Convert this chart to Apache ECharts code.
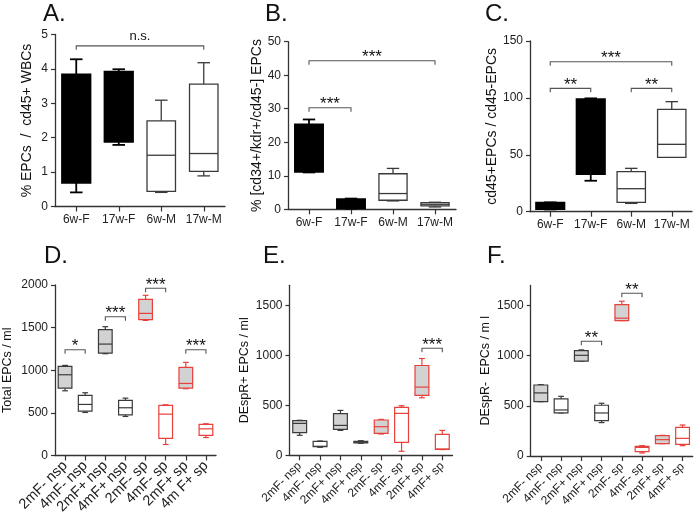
<!DOCTYPE html>
<html><head><meta charset="utf-8">
<script src="https://cdn.jsdelivr.net/npm/echarts@6/dist/echarts.min.js"></script>
<style>html,body{margin:0;padding:0;background:#fff}#c{width:697px;height:517px}</style>
</head><body><div id="c"></div>
<script>
const FONT = 'Liberation Sans, Arial, sans-serif';

// Categories
const catsTop = ['6w-F', '17w-F', '6w-M', '17w-M'];
const catsD = ['2mF- nsp', '4mF- nsp', '2mF+ nsp', '4mF+ nsp', '2mF- sp', '4mF- sp', '2mF+ sp', '4m F+ sp'];
const catsEF = ['2mF- nsp', '4mF- nsp', '2mF+ nsp', '4mF+ nsp', '2mF- sp', '4mF- sp', '2mF+ sp', '4mF+ sp'];

// Box values: [low whisker, Q1, median, Q3, high whisker]
const boxA = [[0.41, 0.69, null, 3.84, 4.28], [1.79, 1.88, null, 3.92, 3.99], [0.41, 0.44, 1.49, 2.49, 3.09], [0.89, 1.02, 1.54, 3.56, 4.18]];
const boxB = [[11.0, 11.2, null, 25.3, 26.8], [0.2, 0.3, null, 3.0, 3.2], [2.5, 2.7, 4.7, 10.6, 12.2], [0.7, 1.0, 1.5, 2.0, 2.1]];
const boxC = [[2.0, 2.3, null, 7.9, 8.2], [27.2, 33.1, null, 99.0, 99.6], [7.3, 8.2, 20.2, 35.2, 38.1], [47.8, 47.8, 59.2, 90, 96.7]];
const boxD = [[759, 790, 947, 1045, 1057], [505, 520, 599, 705, 736], [1194, 1202, 1307, 1476, 1511], [458, 477, 560, 646, 673],
              [1585, 1593, 1667, 1832, 1879], [129, 200, 485, 587, 595], [783, 790, 845, 1033, 1092], [211, 235, 313, 364, 372]];
const boxE = [[200, 226, 319, 346, 350], [80, 86, 90, 140, 143], [249, 259, 299, 416, 449], [120, 123, 130, 140, 146],
              [213, 220, 286, 353, 359], [40, 130, 419, 479, 496], [575, 599, 682, 898, 968], [57, 60, 63, 210, 249]];
const boxF = [[542, 542, 629, 708, 712], [429, 429, 459, 569, 595], [945, 945, 1004, 1051, 1058], [333, 353, 429, 506, 526],
              [1350, 1350, 1374, 1510, 1543], [30, 43, 86, 96, 103], [123, 123, 163, 203, 206], [103, 116, 176, 286, 309]];

// Significance brackets: [from category, to category, level, label]
const brA = [[0, 3, 4.67, 'n.s.']];
const brB = [[0, 3, 44.3, '***'], [0, 1, 30.3, '***']];
const brC = [[0, 3, 131.8, '***'], [0, 1, 108.4, '**'], [2, 3, 108.4, '**']];
const brD = [[0, 1, 1240, '*'], [2, 3, 1628, '***'], [4, 5, 1961, '***'], [6, 7, 1240, '***']];
const brE = [[6, 7, 1071, '***']];
const brF = [[2, 3, 1144, '**'], [4, 5, 1623, '**']];

// Tick labels
const ticksA = [0, 1, 2, 3, 4, 5];
const ticksB = [0, 10, 20, 30, 40, 50];
const ticksC = [0, 50, 100, 150];
const ticksD = [0, 500, 1000, 1500, 2000];
const ticksEF = [0, 500, 1000, 1500];

// Styles
const BLK = '#000', DK = '#3a3a3a', RED = '#e8403a', GR = '#d2d2d2', WH = '#ffffff';
const stTop = { stroke: [BLK, BLK, DK, DK], fill: [BLK, BLK, WH, WH], lw: [1.8, 1.8, 1.3, 1.3], boxRatio: 0.67, capRatio: 0.44 };
const stC = Object.assign({}, stTop, { boxRatio: 0.7 });
const stBot = { stroke: [DK, DK, DK, DK, RED, RED, RED, RED], fill: [GR, WH, GR, WH, GR, WH, GR, WH], lw: [1.2,1.2,1.2,1.2,1.2,1.2,1.2,1.2], boxRatio: 0.68, capRatio: 0.42 };

const grids = [
  { left: 55, top: 34.5, width: 170, height: 172 },
  { left: 288, top: 41.7, width: 168, height: 167.6 },
  { left: 530, top: 41, width: 162, height: 170.7 },
  { left: 55, top: 285, width: 161, height: 170.5 },
  { left: 289.5, top: 285.3, width: 163, height: 170 },
  { left: 530.7, top: 285.5, width: 162, height: 170.5 }
].map(g => Object.assign({ containLabel: false, outerBoundsMode: 'none' }, g));

function xAx(idx, cats, rotate, fs, margin) {
  return {
    type: 'category', gridIndex: idx, data: cats, boundaryGap: true,
    axisLine: { show: true, onZero: false, lineStyle: { color: '#333', width: 1.3 } },
    axisTick: { show: true, alignWithLabel: true, length: 5, lineStyle: { color: '#333', width: 1.2 } },
    axisLabel: { interval: 0, rotate: rotate || 0, fontSize: fs || 12, fontFamily: FONT, color: '#222', margin: margin || 7 },
    splitLine: { show: false }
  };
}
function yAx(idx, max, name, gap, ticks, nfs) {
  return {
    type: 'value', gridIndex: idx, min: 0, max: max, name: name, nameLocation: 'middle', nameGap: gap, nameRotate: 90,
    nameTextStyle: { fontSize: nfs, fontFamily: FONT, color: '#111' },
    axisLine: { show: true, lineStyle: { color: '#333', width: 1.3 } },
    axisTick: { show: true, length: 4, lineStyle: { color: '#333', width: 1.2 }, customValues: ticks },
    axisLabel: { fontSize: 12, fontFamily: FONT, color: '#222', margin: 7, customValues: ticks, formatter: v => String(v) },
    splitLine: { show: false }
  };
}

function boxSeries(idx, boxes, st) {
  return {
    type: 'custom', xAxisIndex: idx, yAxisIndex: idx, clip: false, z: 2,
    data: boxes.map((b, i) => [i, b[0], b[1], b[3], b[4]]),
    encode: { x: 0, y: [1, 2, 3, 4] },
    renderItem: function (params, api) {
      const k = params.dataIndex, b = boxes[k];
      const band = api.size([1, 0])[0];
      const w = band * st.boxRatio, cw = w * st.capRatio;
      const pl = api.coord([k, b[0]]);
      const x = pl[0], yLow = pl[1];
      const yQ1 = api.coord([k, b[1]])[1], yQ3 = api.coord([k, b[3]])[1], yHigh = api.coord([k, b[4]])[1];
      const stroke = st.stroke[k], fill = st.fill[k], lw = st.lw[k];
      const ls = { stroke: stroke, lineWidth: lw, fill: null };
      const ch = [
        { type: 'line', shape: { x1: x, y1: yQ1, x2: x, y2: yLow }, style: ls },
        { type: 'line', shape: { x1: x, y1: yQ3, x2: x, y2: yHigh }, style: ls },
        { type: 'line', shape: { x1: x - cw / 2, y1: yLow, x2: x + cw / 2, y2: yLow }, style: ls },
        { type: 'line', shape: { x1: x - cw / 2, y1: yHigh, x2: x + cw / 2, y2: yHigh }, style: ls },
        { type: 'rect', shape: { x: x - w / 2, y: yQ3, width: w, height: Math.max(yQ1 - yQ3, 0.5) }, style: { fill: fill, stroke: stroke, lineWidth: lw } }
      ];
      if (b[2] != null) {
        const ym = api.coord([k, b[2]])[1];
        ch.push({ type: 'line', shape: { x1: x - w / 2, y1: ym, x2: x + w / 2, y2: ym }, style: ls });
      }
      return { type: 'group', children: ch };
    }
  };
}

function bracketSeries(idx, brs) {
  return {
    type: 'custom', xAxisIndex: idx, yAxisIndex: idx, clip: false, z: 3,
    data: brs.map(b => [b[0], b[1], b[2]]),
    encode: { x: [0, 1], y: 2 },
    renderItem: function (params, api) {
      const b = brs[params.dataIndex];
      const p1 = api.coord([b[0], b[2]]), p2 = api.coord([b[1], b[2]]);
      const d = 4;
      const star = b[3].indexOf('*') >= 0;
      return {
        type: 'group', children: [
          { type: 'polyline', shape: { points: [[p1[0], p1[1] + d], [p1[0], p1[1]], [p2[0], p1[1]], [p2[0], p1[1] + d]] },
            style: { stroke: '#555', lineWidth: 1.1, fill: null } },
          { type: 'text', style: { text: b[3], x: (p1[0] + p2[0]) / 2, y: p1[1] - (star ? 3 : 9), align: 'center', verticalAlign: 'middle',
            font: (star ? '17px ' : '13px ') + FONT, fill: '#111' } }
        ]
      };
    }
  };
}

const titles = [['A.', 43, 2], ['B.', 265, 2], ['C.', 485, 2], ['D.', 44, 244], ['E.', 263, 244], ['F.', 487, 244]];

const option = {
  animation: false,
  backgroundColor: '#fff',
  grid: grids,
  xAxis: [xAx(0, catsTop), xAx(1, catsTop), xAx(2, catsTop), xAx(3, catsD, 45, 14.5, 8), xAx(4, catsEF, 45, 12, 9), xAx(5, catsEF, 45, 12, 9)],
  yAxis: [
    yAx(0, 5, '% EPCs  /  cd45+ WBCs', 21, ticksA, 14),
    yAx(1, 50, '% [cd34+/kdr+/cd45-] EPCs', 19, ticksB, 14),
    yAx(2, 150, 'cd45+EPCs / cd45-EPCs', 31, ticksC, 14),
    yAx(3, 2000, 'Total EPCs / ml', 41, ticksD, 12.5),
    yAx(4, 1700, 'DEspR+ EPCs / ml', 38, ticksEF, 12.5),
    yAx(5, 1700, 'DEspR-  EPCs / m l', 39, ticksEF, 12.5)
  ],
  series: [
    boxSeries(0, boxA, stTop), bracketSeries(0, brA),
    boxSeries(1, boxB, stTop), bracketSeries(1, brB),
    boxSeries(2, boxC, stC), bracketSeries(2, brC),
    boxSeries(3, boxD, stBot), bracketSeries(3, brD),
    boxSeries(4, boxE, stBot), bracketSeries(4, brE),
    boxSeries(5, boxF, stBot), bracketSeries(5, brF)
  ],
  graphic: titles.map(t => ({ type: 'text', left: t[1], top: t[2], style: { text: t[0], font: '24px ' + FONT, fill: '#111' } }))
};

const chart = echarts.init(document.getElementById('c'), null, { renderer: 'canvas' });
chart.setOption(option);
</script>
</body></html>
